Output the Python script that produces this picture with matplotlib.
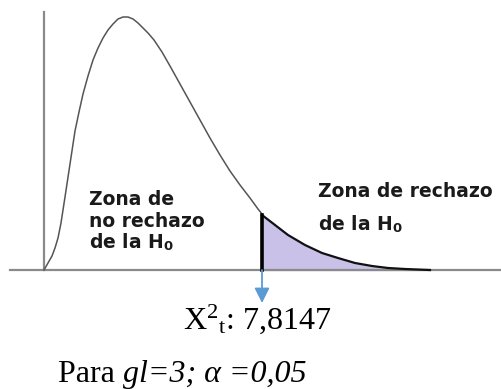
import matplotlib
matplotlib.use("Agg")
import matplotlib.pyplot as plt

# Curve outline (x offset from origin, height above baseline)
curve_x = [0, 4, 8, 11, 14, 17, 21, 26, 31, 35, 39, 44, 49, 54, 59, 64, 69, 74,
           79, 84, 89, 94, 99, 104, 110, 118, 126, 136, 146, 156, 166, 176,
           186, 196, 206, 214, 218]
curve_y = [0, 7, 14, 22, 32, 47, 73, 106, 139, 158, 176, 194, 210, 222, 232,
           240, 246, 251, 253, 253, 251, 247, 242, 237, 230, 218, 204, 186,
           168, 150, 132, 115, 99, 85, 72, 61, 56]
tail_x = [218, 231, 244, 261, 278, 294, 311, 328, 344, 361, 386]
tail_y = [55, 45, 35, 25, 17, 12, 7, 4, 2, 1, 0]
critical_label = "7,8147"
gl = 3
alpha_txt = "0,05"

plt.rcParams['mathtext.fontset'] = 'custom'
plt.rcParams['mathtext.rm'] = 'Liberation Serif'
plt.rcParams['mathtext.it'] = 'Liberation Serif:italic'
plt.rcParams['mathtext.bf'] = 'DejaVu Sans:bold'

fig = plt.figure(figsize=(5.02, 3.89), dpi=100)
ax = fig.add_axes([0, 0, 1, 1])
ax.set_xlim(-44, 458)
ax.set_ylim(-119, 270)
ax.axis('off')

# axes lines
ax.plot([-34, 458], [0, 0], color='#8a8a8a', lw=1.6, zorder=2)
ax.plot([0, 0], [0, 258], color='#8a8a8a', lw=1.6, zorder=2)

# main curve
ax.plot(curve_x, curve_y, color='#555555', lw=1.1, zorder=3,
        solid_joinstyle='round')

# rejection region
ax.fill_between(tail_x, tail_y, 0, color='#c9c1e7', zorder=1)
ax.plot(tail_x, tail_y, color='#111111', lw=1.6, zorder=4,
        solid_joinstyle='round')
ax.plot([tail_x[0], tail_x[0]], [0, tail_y[0]], color='black', lw=2.6, zorder=4)

# blue arrow
ax.annotate('', xy=(tail_x[0], -33), xytext=(tail_x[0], 0),
            arrowprops=dict(arrowstyle='-|>,head_length=0.9,head_width=0.45',
                            color='#5b9bd5', lw=1.3, shrinkA=0, shrinkB=0),
            zorder=5)

sans = dict(family='DejaVu Sans', weight='bold', fontsize=13.5, color='#1a1a1a')
ax.text(45, 65, "Zona de", ha='left', va='baseline', **sans)
ax.text(45, 43, "no rechazo", ha='left', va='baseline', **sans)
ax.text(45, 22, "de la H$_\\mathbf{0}$", ha='left', va='baseline', **sans)
ax.text(274, 73, "Zona de rechazo", ha='left', va='baseline', **sans)
ax.text(274, 40, "de la H$_\\mathbf{0}$", ha='left', va='baseline', **sans)

ax.text(213, -59, "X$^{2}{}_{\\mathrm{t}}$: " + critical_label, ha='center',
        va='baseline', family='Liberation Serif', fontsize=23, color='black')

t1 = ax.text(14, -112, "Para ", ha='left', va='baseline',
             family='Liberation Serif', fontsize=23, color='black')
fig.canvas.draw()
bb = t1.get_window_extent(renderer=fig.canvas.get_renderer())
x_end = ax.transData.inverted().transform((bb.x1, bb.y0))[0]
ax.text(x_end, -112, "gl=%d; \u03b1 =%s" % (gl, alpha_txt), ha='left',
        va='baseline', family='Liberation Serif', style='italic', fontsize=23,
        color='black')

fig.savefig('out.png', dpi=100)
